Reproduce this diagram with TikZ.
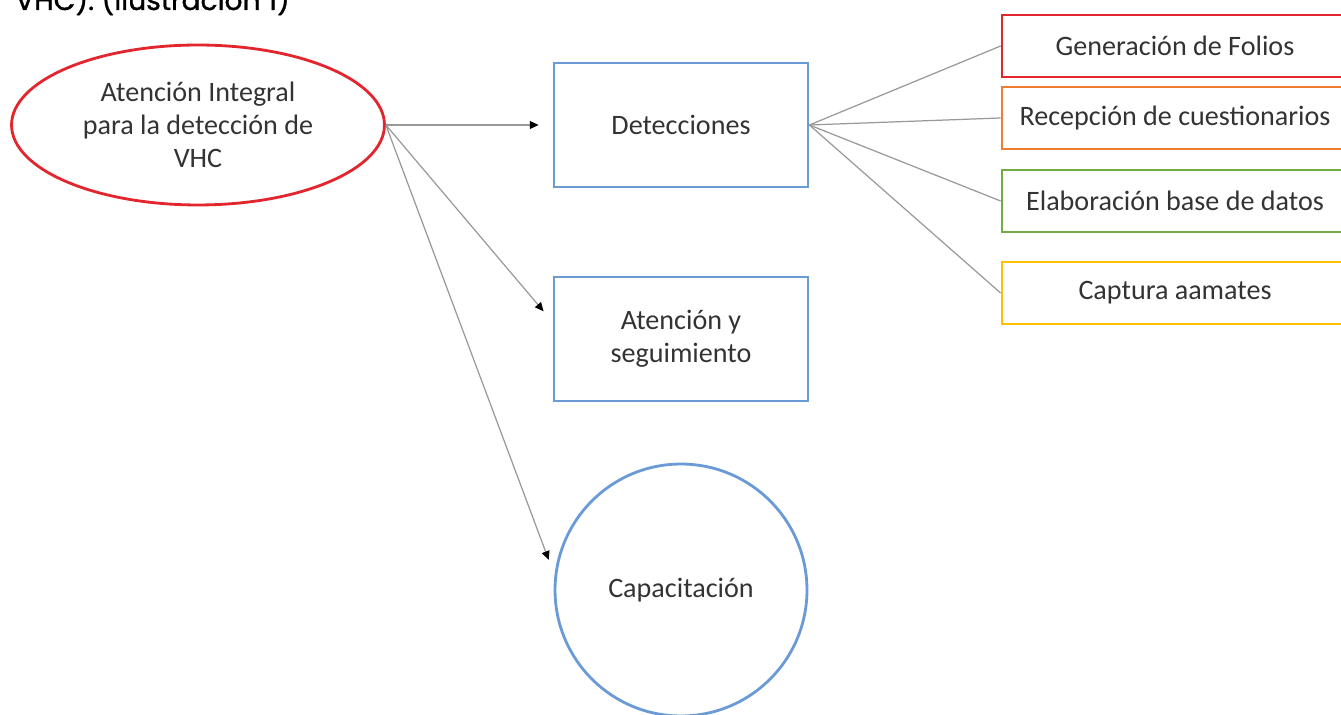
\documentclass[tikz,border=0pt]{standalone}
\usepackage{fontspec}
\setmainfont{Carlito}
\newfontfamily\captionfont{Poppins}[FakeBold=1.2]
\usetikzlibrary{arrows.meta,positioning,shapes.geometric}

\definecolor{boxblue}{HTML}{6A9BD6}
\definecolor{boxred}{HTML}{E3262E}
\definecolor{boxorange}{HTML}{ED7D31}
\definecolor{boxgreen}{HTML}{70AD47}
\definecolor{boxyellow}{HTML}{FFC000}

\begin{document}
\begin{tikzpicture}[
  x=0.02cm, y=-0.02cm,
  every node/.style={
    align=center,
    text=black!80,
    font=\fontsize{16}{18.8}\selectfont
  },
  topic/.style={ellipse, draw=boxred, line width=1.6pt, minimum width=7.46cm, minimum height=3.2cm},
  area/.style={draw=boxblue, line width=1.6pt, minimum width=5.08cm, minimum height=2.48cm},
  training/.style={circle, draw=boxblue, line width=1.6pt, minimum size=5.04cm},
  task/.style={line width=1.6pt, minimum width=6.92cm, minimum height=1.24cm},
  arrow/.style={-{Triangle[length=5pt, width=4.5pt, color=black]}, draw=black!40, line width=0.7pt, shorten >=0.28cm},
  link/.style={draw=black!40, line width=0.7pt}
]
  \useasboundingbox (0,0) rectangle (1341,715);
  \clip (0,0) rectangle (1341,715);

  \node[anchor=base east, text=black, font=\captionfont\fontsize{16}{18}\selectfont] (caption) at (296,10) {VHC). (Ilustración 1)};

  \node[topic] (vhc) at (198,125) {Atención Integral\\para la detección de\\VHC};

  \node[area] (det) at (681,125) {Detecciones};
  \node[area] (seg) at (681,339) {Atención y\\seguimiento};
  \node[training] (cap) at (681,590) {Capacitación};

  \node[task, draw=boxred] (folios) at (1175,46) {Generación de Folios};
  \node[task, draw=boxorange] (recep) at (1175,118) {Recepción de cuestionarios};
  \node[task, draw=boxgreen] (base) at (1175,201) {Elaboración base de datos};
  \node[task, draw=boxyellow] (aamates) at (1175,293) {Captura aamates};

  \draw[arrow] (vhc.east) -- (det.west);
  \draw[arrow] (vhc.east) -- ([yshift=0.34cm]seg.west);
  \draw[arrow] (vhc.east) -- ([yshift=0.34cm]cap.west);

  \draw[link] (det.east) -- (folios.west);
  \draw[link] (det.east) -- (recep.west);
  \draw[link] (det.east) -- (base.west);
  \draw[link] (det.east) -- (aamates.west);
\end{tikzpicture}
\end{document}
